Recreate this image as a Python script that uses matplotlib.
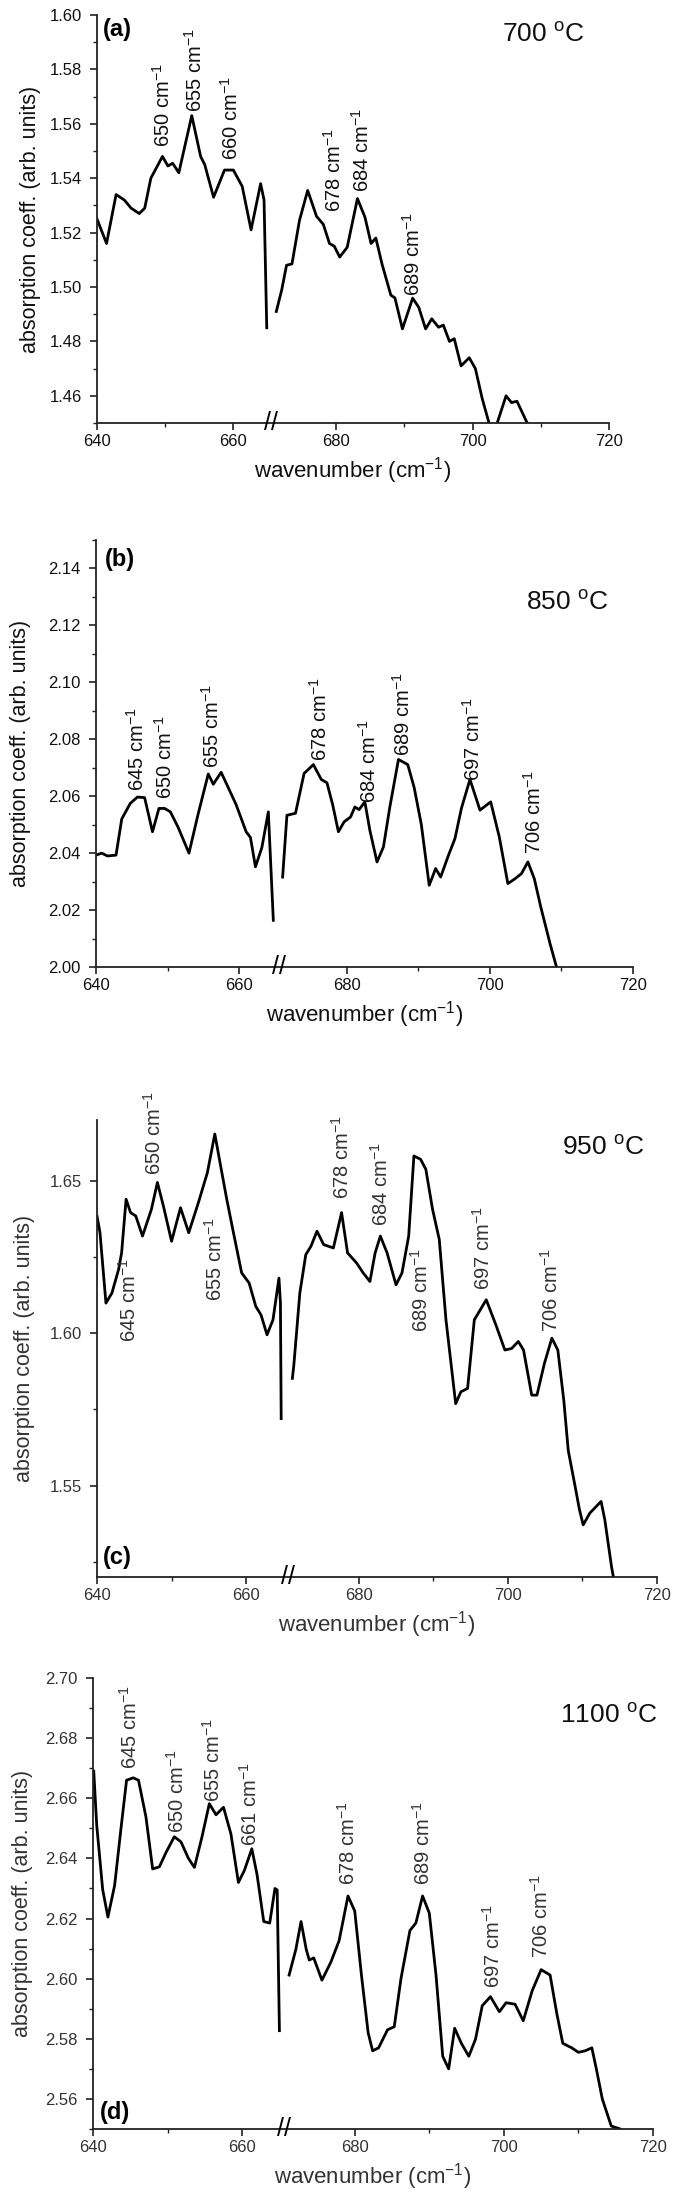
import numpy as np
import matplotlib
matplotlib.use("Agg")
import matplotlib.pyplot as plt
from matplotlib.ticker import FixedLocator, FormatStrFormatter

plt.rcParams.update({
    "font.family": ["Liberation Sans", "DejaVu Sans"],
    "mathtext.fontset": "custom",
    "mathtext.rm": "Liberation Sans",
    "mathtext.it": "Liberation Sans:italic",
    "mathtext.bf": "Liberation Sans:bold",
})

# ---------------- data ----------------
# panel (a) 700 C
a_wn_lo = [640.0, 641.4, 642.8, 644.0, 645.0, 646.2, 647.0, 647.9, 649.6, 650.4, 651.1, 652.0,
           653.9, 655.2, 655.8, 657.1, 658.7, 660.0, 661.3, 662.6, 664.0, 664.5, 664.9]
a_abs_lo = [1.525, 1.516, 1.534, 1.532, 1.529, 1.527, 1.529, 1.540, 1.548, 1.5445, 1.5455, 1.542,
            1.563, 1.548, 1.545, 1.533, 1.543, 1.543, 1.537, 1.521, 1.538, 1.532, 1.485]
a_wn_hi = [671.2, 672.0, 672.7, 673.5, 674.6, 675.8, 677.1, 678.1, 679.0, 679.7, 680.5, 681.6,
           683.1, 684.2, 685.1, 685.8, 686.7, 688.0, 688.6, 689.7, 691.2, 692.1, 693.1, 694.0,
           695.0, 695.7, 696.6, 697.3, 698.3, 699.5, 700.4, 701.4, 702.4, 703.0, 703.6, 704.9,
           705.7, 706.5, 708.0, 708.6]
a_abs_hi = [1.491, 1.499, 1.508, 1.5085, 1.5245, 1.5355, 1.526, 1.523, 1.516, 1.515, 1.511, 1.5146,
            1.5325, 1.5257, 1.516, 1.518, 1.5085, 1.497, 1.496, 1.4846, 1.4959, 1.4925, 1.4846, 1.4883,
            1.4852, 1.486, 1.480, 1.481, 1.471, 1.474, 1.470, 1.459, 1.450, 1.446, 1.450, 1.460,
            1.4575, 1.458, 1.450, 1.445]

# panel (b) 850 C
b_wn_lo = [640.0, 640.8, 641.6, 642.8, 643.6, 644.8, 645.8, 646.8, 647.9, 648.8, 649.6, 650.4,
           651.5, 653.0, 654.3, 655.7, 656.4, 657.5, 658.5, 659.6, 661.0, 661.6, 662.3, 663.2,
           664.1, 664.8]
b_abs_lo = [2.0393, 2.0400, 2.0390, 2.0393, 2.0520, 2.0575, 2.0597, 2.0595, 2.0475, 2.0557, 2.0557, 2.0545,
            2.0490, 2.0400, 2.0539, 2.0678, 2.0642, 2.0684, 2.0630, 2.0570, 2.0475, 2.0455, 2.0352, 2.0420,
            2.0545, 2.0164]
b_wn_hi = [671.0, 671.6, 672.8, 674.0, 675.3, 676.4, 677.2, 678.0, 678.8, 679.6, 680.5, 681.1,
           681.7, 682.5, 683.2, 684.2, 685.1, 686.0, 687.2, 688.5, 689.4, 690.4, 691.5, 692.4,
           693.1, 694.2, 695.1, 696.0, 697.2, 698.6, 700.1, 701.3, 702.5, 703.5, 704.4, 705.3,
           706.2, 707.1, 708.4, 709.3, 709.6]
b_abs_hi = [2.0316, 2.0533, 2.0540, 2.0680, 2.0711, 2.0659, 2.0647, 2.0570, 2.0475, 2.0510, 2.0527, 2.0562,
            2.0553, 2.0580, 2.0480, 2.0369, 2.0422, 2.0563, 2.0729, 2.0711, 2.0630, 2.0500, 2.0287, 2.0346,
            2.0316, 2.0393, 2.0451, 2.0557, 2.0659, 2.0551, 2.0580, 2.0457, 2.0293, 2.0310, 2.0328, 2.0369,
            2.0310, 2.0211, 2.0082, 2.0000, 1.9960]

# panel (c) 950 C
c_wn_lo = [640.0, 640.4, 641.2, 642.0, 642.9, 643.3, 643.9, 644.5, 645.2, 646.1, 647.3, 648.1,
           648.9, 650.0, 651.2, 652.3, 653.6, 654.8, 655.8, 656.5, 657.4, 658.3, 659.4, 660.4,
           661.3, 662.0, 662.8, 663.6, 664.4, 664.6, 664.7]
c_abs_lo = [1.6385, 1.6330, 1.6099, 1.6132, 1.6210, 1.6264, 1.6440, 1.6396, 1.6385, 1.6319, 1.6407, 1.6495,
            1.6418, 1.6302, 1.6412, 1.6330, 1.6429, 1.6527, 1.6654, 1.6560, 1.6440, 1.6330, 1.6198, 1.6165,
            1.6088, 1.6060, 1.5995, 1.6044, 1.6181, 1.6100, 1.5720]
c_wn_hi = [671.1, 671.3, 672.1, 672.9, 673.6, 674.4, 675.3, 676.6, 677.7, 678.5, 679.7, 680.6,
           681.5, 682.2, 682.9, 683.8, 685.0, 685.8, 686.7, 687.4, 688.3, 689.0, 689.9, 690.8,
           691.7, 693.0, 693.7, 694.6, 695.5, 697.1, 698.4, 699.6, 700.5, 701.4, 702.1, 703.2,
           703.9, 704.9, 705.9, 706.7, 707.5, 708.1, 709.0, 709.6, 710.1, 711.0, 712.5, 713.0,
           713.9, 714.3]
c_abs_hi = [1.5852, 1.5896, 1.6132, 1.6258, 1.6286, 1.6335, 1.6291, 1.6280, 1.6396, 1.6264, 1.6231, 1.6198,
            1.6170, 1.6264, 1.6319, 1.6264, 1.6159, 1.6198, 1.6319, 1.6582, 1.6571, 1.6538, 1.6407, 1.6308,
            1.6044, 1.5769, 1.5808, 1.5819, 1.6044, 1.6110, 1.6027, 1.5945, 1.5950, 1.5973, 1.5945, 1.5797,
            1.5797, 1.5901, 1.5984, 1.5945, 1.5780, 1.5615, 1.5500, 1.5421, 1.5371, 1.5410, 1.5448, 1.5388,
            1.5234, 1.5180]

# panel (d) 1100 C
d_wn_lo = [640.1, 640.5, 641.3, 642.0, 642.9, 643.8, 644.5, 645.4, 646.1, 647.1, 648.0, 648.9,
           649.8, 650.9, 651.8, 652.8, 653.6, 654.6, 655.6, 656.5, 657.5, 658.5, 659.5, 660.3,
           661.3, 662.0, 662.9, 663.7, 664.4, 664.7, 665.0]
d_abs_lo = [2.6690, 2.6510, 2.6296, 2.6205, 2.6310, 2.6510, 2.6660, 2.6668, 2.6660, 2.6538, 2.6365, 2.6372,
            2.6420, 2.6472, 2.6455, 2.6400, 2.6370, 2.6470, 2.6582, 2.6545, 2.6570, 2.6481, 2.6320, 2.6360,
            2.6432, 2.6346, 2.6190, 2.6185, 2.6300, 2.6295, 2.5827]
d_wn_hi = [671.2, 672.1, 672.8, 673.5, 673.9, 674.5, 675.6, 676.8, 677.9, 679.1, 680.0, 680.9,
           681.8, 682.4, 683.2, 684.4, 685.3, 686.2, 687.4, 688.2, 689.1, 690.0, 690.9, 691.8,
           692.6, 693.4, 694.3, 695.3, 696.2, 697.1, 698.2, 699.4, 700.3, 701.5, 702.6, 703.8,
           705.0, 706.2, 707.1, 707.9, 709.1, 710.0, 710.9, 711.8, 712.4, 713.2, 714.4, 715.6]
d_abs_hi = [2.6012, 2.6097, 2.6190, 2.6097, 2.6062, 2.6069, 2.5995, 2.6055, 2.6126, 2.6275, 2.6225, 2.6012,
            2.5820, 2.5760, 2.5770, 2.5830, 2.5840, 2.6000, 2.6160, 2.6185, 2.6275, 2.6218, 2.6012, 2.5742,
            2.5700, 2.5835, 2.5785, 2.5742, 2.5799, 2.5910, 2.5940, 2.5890, 2.5920, 2.5915, 2.5860, 2.5960,
            2.6030, 2.6012, 2.5884, 2.5785, 2.5770, 2.5755, 2.5760, 2.5770, 2.5700, 2.5600, 2.5510, 2.5500]

# peak annotations: wavenumber label, x, y(bottom of rotated text)
a_peak_labels = ["650", "655", "660", "678", "684", "689"]
a_peak_x = [649.7, 654.3, 659.6, 679.7, 683.8, 691.2]
a_peak_y = [1.5515, 1.5644, 1.5466, 1.5275, 1.5349, 1.4968]

b_peak_labels = ["645", "650", "655", "678", "684", "689", "697", "706"]
b_peak_x = [645.7, 649.6, 656.2, 676.2, 683.1, 687.8, 697.6, 706.2]
b_peak_y = [2.0620, 2.0590, 2.0700, 2.0723, 2.0575, 2.0740, 2.0653, 2.0396]

c_peak_labels = ["645", "650", "655", "678", "684", "689", "697", "706"]
c_peak_x = [644.3, 647.6, 655.8, 677.7, 682.9, 688.3, 696.7, 705.8]
c_peak_y = [1.5972, 1.6520, 1.6105, 1.6440, 1.6352, 1.6005, 1.6143, 1.6005]

d_peak_labels = ["645", "650", "655", "661", "678", "689", "697", "706"]
d_peak_x = [644.9, 651.3, 656.1, 661.1, 679.1, 689.1, 698.5, 705.0]
d_peak_y = [2.6697, 2.6485, 2.6588, 2.6442, 2.6310, 2.6310, 2.5970, 2.6069]

temperatures = ["700", "850", "950", "1100"]
panel_letters = ["(a)", "(b)", "(c)", "(d)"]
x_major = [640, 660, 680, 700, 720]
x_minor = [650, 690, 710]

# ---------------- broken x-axis scale ----------------
BRK_A, BRK_B, K = 665.5, 670.5, 0.02


def fwd(x):
    x = np.asarray(x, dtype=float)
    return np.where(x <= BRK_A, x,
                    np.where(x >= BRK_B, x - (BRK_B - BRK_A) * (1 - K), BRK_A + (x - BRK_A) * K))


def inv(u):
    u = np.asarray(u, dtype=float)
    ub = BRK_A + (BRK_B - BRK_A) * K
    return np.where(u <= BRK_A, u,
                    np.where(u >= ub, u + (BRK_B - BRK_A) * (1 - K), BRK_A + (u - BRK_A) / K))


W, H = 685, 2195
fig = plt.figure(figsize=(W / 100, H / 100), dpi=100)

panels = [
    dict(box=(97, 609, 15, 423), ylim=(1.45, 1.60),
         major=np.round(np.arange(1.46, 1.601, 0.02), 2), minor=np.round(np.arange(1.45, 1.60, 0.02), 3),
         lo=(a_wn_lo, a_abs_lo), hi=(a_wn_hi, a_abs_hi),
         peaks=(a_peak_labels, a_peak_x, a_peak_y), tc="#111111",
         temp_pos=(0.953, 0.934), letter_pos=(0.012, 0.993, "top"), ylab_x=41),
    dict(box=(96, 633, 540, 967), ylim=(2.00, 2.15),
         major=np.round(np.arange(2.00, 2.141, 0.02), 2), minor=np.round(np.arange(2.01, 2.151, 0.02), 3),
         lo=(b_wn_lo, b_abs_lo), hi=(b_wn_hi, b_abs_hi),
         peaks=(b_peak_labels, b_peak_x, b_peak_y), tc="#111111",
         temp_pos=(0.955, 0.836), letter_pos=(0.017, 0.981, "top"), ylab_x=31),
    dict(box=(97, 657, 1120, 1577), ylim=(1.52, 1.67),
         major=[1.55, 1.60, 1.65], minor=[1.525, 1.575, 1.625],
         lo=(c_wn_lo, c_abs_lo), hi=(c_wn_hi, c_abs_hi),
         peaks=(c_peak_labels, c_peak_x, c_peak_y), tc="#333333",
         temp_pos=(0.977, 0.923), letter_pos=(0.011, 0.018, "bottom"), ylab_x=35),
    dict(box=(93, 653, 1678, 2129), ylim=(2.55, 2.70),
         major=np.round(np.arange(2.56, 2.701, 0.02), 2), minor=np.round(np.arange(2.55, 2.70, 0.02), 3),
         lo=(d_wn_lo, d_abs_lo), hi=(d_wn_hi, d_abs_hi),
         peaks=(d_peak_labels, d_peak_x, d_peak_y), tc="#333333",
         temp_pos=(1.007, 0.900), letter_pos=(0.0125, 0.012, "bottom"), ylab_x=33),
]

for i, p in enumerate(panels):
    l, r, t, b = p["box"]
    tc = p["tc"]
    ax = fig.add_axes([l / W, 1 - b / H, (r - l) / W, (b - t) / H])
    ax.set_xscale("function", functions=(fwd, inv))
    ax.set_xlim(640, 720)
    ax.set_ylim(*p["ylim"])
    ax.plot(p["lo"][0], p["lo"][1], color="black", lw=2.0, solid_joinstyle="round")
    ax.plot(p["hi"][0], p["hi"][1], color="black", lw=2.0, solid_joinstyle="round")

    ax.xaxis.set_major_locator(FixedLocator(x_major))
    ax.xaxis.set_minor_locator(FixedLocator(x_minor))
    ax.xaxis.set_major_formatter(FormatStrFormatter("%d"))
    ax.xaxis.set_minor_formatter(plt.NullFormatter())
    ax.yaxis.set_major_locator(FixedLocator(p["major"]))
    ax.yaxis.set_minor_locator(FixedLocator(p["minor"]))
    ax.yaxis.set_major_formatter(FormatStrFormatter("%.2f"))

    for s in ["top", "right"]:
        ax.spines[s].set_visible(False)
    for s in ["left", "bottom"]:
        ax.spines[s].set_linewidth(1.3)
        ax.spines[s].set_color("#222222")
    ax.tick_params(which="major", direction="out", length=5, width=1.2, labelsize=12,
                   color="#222222", labelcolor=tc)
    ax.tick_params(which="minor", direction="out", length=3, width=1.0, color="#222222")
    ax.tick_params(axis="y", which="major", pad=6)
    ax.tick_params(axis="x", which="major", pad=3)

    ax.set_xlabel("wavenumber (cm$^{-1}$)", fontsize=16, labelpad=4, color=tc)
    ax.set_ylabel("absorption coeff. (arb. units)", fontsize=15.5, color=tc)
    ax.yaxis.set_label_coords((p["ylab_x"] - l) / (r - l), 0.5)

    # break marks
    ax.text(668.0, 0.0, "//", transform=ax.get_xaxis_transform(), ha="center", va="center",
            fontsize=18, color="black", clip_on=False)

    labels, xs, ys = p["peaks"]
    for lab, x, y in zip(labels, xs, ys):
        ax.text(x, y, lab + " cm$^{-1}$", rotation=90, ha="center", va="bottom",
                fontsize=14.5, color=tc)

    tx, ty = p["temp_pos"]
    ax.text(tx, ty, temperatures[i] + r" $^{\rm o}$C", transform=ax.transAxes,
            ha="right", va="baseline", fontsize=19, color="#111111")
    lx, ly, lva = p["letter_pos"]
    ax.text(lx, ly, panel_letters[i], transform=ax.transAxes, ha="left", va=lva,
            fontsize=17, fontweight="bold", color="black")

fig.savefig("out.png", dpi=100, facecolor="white")
